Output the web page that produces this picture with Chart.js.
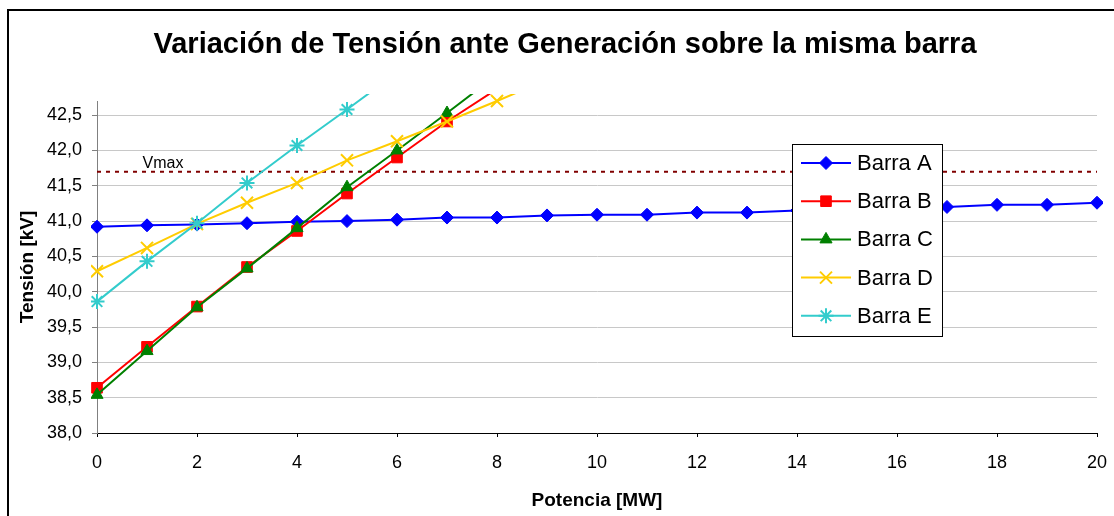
<!DOCTYPE html>
<html>
<head>
<meta charset="utf-8">
<script src="https://cdn.jsdelivr.net/npm/chart.js@4.4.1/dist/chart.umd.min.js"></script>
<style>
  body { margin: 0; background: #fff; }
  #wrap { position: relative; width: 1114px; height: 516px; }
</style>
</head>
<body>
<div id="wrap"><canvas id="voltChart" width="1114" height="516"></canvas></div>
<script>
// data
const potencia = [0, 1, 2, 3, 4, 5, 6, 7, 8, 9, 10, 11, 12, 13, 14, 15, 16, 17, 18, 19, 20];
const barraA = [40.92, 40.94, 40.95, 40.97, 40.99, 41.00, 41.02, 41.05, 41.05, 41.08, 41.09, 41.09, 41.12, 41.12, 41.15, 41.16, 41.18, 41.20, 41.23, 41.23, 41.26];
const barraB = [38.64, 39.22, 39.79, 40.35, 40.86, 41.39, 41.90, 42.41, 42.87];
const barraC = [38.54, 39.16, 39.78, 40.33, 40.90, 41.48, 42.00, 42.53, 43.07];
const barraD = [40.29, 40.62, 40.96, 41.26, 41.54, 41.86, 42.13, 42.41, 42.70, 43.00];
const barraE = [39.86, 40.43, 40.97, 41.54, 42.07, 42.58, 43.10];
const seriesNames = ['Barra A', 'Barra B', 'Barra C', 'Barra D', 'Barra E'];
const vmax = 41.7;
const vmaxLabel = 'Vmax';
const chartTitle = 'Variación de Tensión ante Generación sobre la misma barra';
const xTicks = [0, 2, 4, 6, 8, 10, 12, 14, 16, 18, 20];
const yTicks = [38.0, 38.5, 39.0, 39.5, 40.0, 40.5, 41.0, 41.5, 42.0, 42.5];

const Y_MIN = 38, Y_MAX = 42.7;
const FONT = '"Liberation Sans", Arial, sans-serif';

const colors = ['#0000ff', '#ff0000', '#008000', '#ffcc00', '#33cccc'];
const styles = ['rectRot', 'rect', 'triangle', 'crossRot', 'star'];
const radii = [6.5, 7.5, 7, 8.5, 7.5];
const allSeries = [barraA, barraB, barraC, barraD, barraE];

const toPoints = arr => arr.map((v, i) => ({ x: potencia[i], y: v }));

const datasets = allSeries.map((arr, i) => ({
    label: seriesNames[i],
    data: toPoints(arr),
    borderColor: colors[i],
    backgroundColor: colors[i],
    borderWidth: 2,
    pointStyle: styles[i],
    pointRadius: c => (c.raw && c.raw.y > Y_MAX) ? 0 : radii[i],
    pointBorderWidth: (styles[i] === 'crossRot' || styles[i] === 'star') ? 2 : 1,
    pointBorderColor: colors[i],
    pointBackgroundColor: colors[i],
    tension: 0,
    order: 5 - i,
    clip: { left: 6, top: 7, right: 6, bottom: 6 }
}));

datasets.push({
    label: vmaxLabel,
    data: [{ x: potencia[0], y: vmax }, { x: potencia[potencia.length - 1], y: vmax }],
    borderColor: '#800000',
    borderWidth: 2,
    borderDash: [4, 5],
    pointRadius: 0,
    order: 10
});

// outer frame of the chart object
const framePlugin = {
    id: 'frame',
    beforeDraw(chart) {
        const ctx = chart.ctx;
        ctx.save();
        ctx.fillStyle = '#fff';
        ctx.fillRect(0, 0, chart.width, chart.height);
        ctx.strokeStyle = '#000';
        ctx.lineWidth = 2;
        ctx.strokeRect(8, 10, 2000, 2000);
        ctx.restore();
    }
};

// title, Vmax text + legend box inside plot
const overlayPlugin = {
    id: 'overlay',
    afterDraw(chart) {
        const ctx = chart.ctx;
        const xs = chart.scales.x, ys = chart.scales.y;
        ctx.save();
        ctx.fillStyle = '#000';
        ctx.font = 'bold 29px ' + FONT;
        ctx.textAlign = 'center';
        ctx.textBaseline = 'middle';
        ctx.fillText(chartTitle, 565, 45);

        ctx.font = '16px ' + FONT;
        ctx.textBaseline = 'alphabetic';
        ctx.fillText(vmaxLabel, xs.getPixelForValue(1.32), ys.getPixelForValue(vmax) - 4);

        // legend
        const lx = 792.5, ly = 144.5, lw = 150, lh = 192;
        ctx.fillStyle = '#fff';
        ctx.fillRect(lx, ly, lw, lh);
        ctx.strokeStyle = '#000';
        ctx.lineWidth = 1;
        ctx.strokeRect(lx, ly, lw, lh);
        seriesNames.forEach((name, i) => {
            const y = 163 + i * 38.2;
            ctx.strokeStyle = colors[i];
            ctx.lineWidth = 2;
            ctx.beginPath();
            ctx.moveTo(801, y);
            ctx.lineTo(851, y);
            ctx.stroke();
            ctx.fillStyle = colors[i];
            ctx.strokeStyle = colors[i];
            ctx.lineWidth = (styles[i] === 'crossRot' || styles[i] === 'star') ? 2 : 1;
            Chart.helpers.drawPoint(ctx, { pointStyle: styles[i], radius: radii[i], borderWidth: ctx.lineWidth, rotation: 0 }, 826, y);
            ctx.fillStyle = '#000';
            ctx.font = '22px ' + FONT;
            ctx.textAlign = 'left';
            ctx.textBaseline = 'middle';
            ctx.fillText(name, 857, y + 1);
        });
        ctx.restore();
    }
};

new Chart(document.getElementById('voltChart'), {
    type: 'line',
    data: { datasets },
    plugins: [framePlugin, overlayPlugin],
    options: {
        responsive: false,
        animation: false,
        layout: { padding: { left: 10, right: 17, top: 101, bottom: 0 } },
        plugins: {
            legend: { display: false },
            tooltip: { enabled: false },
            title: { display: false }
        },
        scales: {
            x: {
                type: 'linear',
                min: 0, max: 20,
                afterBuildTicks: s => { s.ticks = xTicks.map(v => ({ value: v })); },
                afterFit: s => { s.height = 83; s.paddingLeft = 0; s.paddingRight = 0; },
                ticks: { color: '#000', font: { family: FONT, size: 18 }, padding: 15, maxRotation: 0 },
                grid: { drawOnChartArea: false, drawTicks: true, tickLength: 4, tickColor: '#000' },
                border: { color: '#000', width: 1 },
                title: {
                    display: true, text: 'Potencia [MW]', color: '#000',
                    font: { family: FONT, size: 19, weight: 'bold' },
                    padding: { top: 0, bottom: 4 }
                }
            },
            y: {
                min: Y_MIN, max: Y_MAX,
                afterBuildTicks: s => { s.ticks = yTicks.map(v => ({ value: v })); },
                afterFit: s => { s.width = 87; s.paddingTop = 0; s.paddingBottom = 0; },
                ticks: {
                    color: '#000', font: { family: FONT, size: 18 }, padding: 10,
                    callback: v => v.toFixed(1).replace('.', ',')
                },
                grid: { color: '#c8c8c8', lineWidth: 1, tickLength: 5, tickColor: '#808080' },
                border: { color: '#808080', width: 1 },
                title: {
                    display: true, text: 'Tensión [kV]', color: '#000',
                    font: { family: FONT, size: 19, weight: 'bold' },
                    padding: { top: 6, bottom: 0 }
                }
            }
        }
    }
});
</script>
</body>
</html>
